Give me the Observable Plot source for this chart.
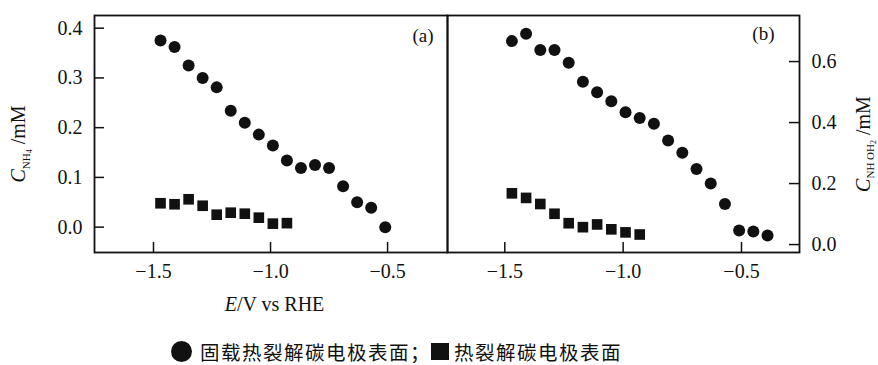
<!DOCTYPE html>
<html>
<head>
<meta charset="utf-8">
<script src="https://cdn.jsdelivr.net/npm/d3@7"></script>
<script src="https://cdn.jsdelivr.net/npm/@observablehq/plot@0.6"></script>
<style>
  html, body { margin: 0; padding: 0; background: #fff; }
  #wrap { position: relative; width: 878px; height: 365px; background: #fff; }
  .panel { position: absolute; top: 0; }
  .panel svg, .panel svg text { font-family: "Liberation Serif", "Times New Roman", Times, "DejaVu Serif", serif !important; }
  #legend { position: absolute; left: 171px; top: 337px; display: flex; align-items: center;
            font-family: "Noto Sans CJK SC", sans-serif; font-size: 19.5px; color: #111; white-space: nowrap; }
  #legend .t { display: inline-block; letter-spacing: 1.5px; padding-right: 2px; flex: none; }
  .lg-circle { width: 21px; height: 21px; border-radius: 50%; background: #111; display: inline-block; flex: none; }
  .lg-square { width: 18px; height: 17px; background: #111; display: inline-block; flex: none; }
</style>
</head>
<body>
<div id="wrap">
  <div id="pa" class="panel" style="left:0px"></div>
  <div id="pb" class="panel" style="left:440px"></div>
  <div id="legend">
    <span class="lg-circle"></span><span class="t" style="margin-left:8px">固载热裂解碳电极表面；</span><span class="lg-square" style="margin-left:-2px"></span><span class="t" style="margin-left:5px">热裂解碳电极表面</span>
  </div>
</div>
<script>
// ---- data ----
const xA = [-1.47, -1.41, -1.35, -1.29, -1.23, -1.17, -1.11, -1.05, -0.99, -0.93, -0.87, -0.81, -0.75, -0.69, -0.63, -0.57, -0.51];
const circleA = [0.375, 0.362, 0.325, 0.300, 0.281, 0.234, 0.210, 0.186, 0.164, 0.134, 0.119, 0.125, 0.119, 0.082, 0.050, 0.039, 0.000];
const xSquare = [-1.47, -1.41, -1.35, -1.29, -1.23, -1.17, -1.11, -1.05, -0.99, -0.93];
const squareA = [0.048, 0.046, 0.056, 0.043, 0.025, 0.029, 0.027, 0.019, 0.007, 0.008];
const xB = [-1.47, -1.41, -1.35, -1.29, -1.23, -1.17, -1.11, -1.05, -0.99, -0.93, -0.87, -0.81, -0.75, -0.69, -0.63, -0.57, -0.51, -0.45, -0.39];
const circleB = [0.667, 0.691, 0.638, 0.638, 0.596, 0.534, 0.499, 0.470, 0.434, 0.415, 0.396, 0.341, 0.301, 0.248, 0.200, 0.133, 0.046, 0.043, 0.030];
const squareB = [0.168, 0.153, 0.133, 0.101, 0.070, 0.057, 0.066, 0.050, 0.040, 0.033];
const xTicks = [-1.5, -1.0, -0.5];
const yTicksA = [0.0, 0.1, 0.2, 0.3, 0.4];
const yTicksB = [0.0, 0.2, 0.4, 0.6];
const panelLabels = ["(a)", "(b)"];

const ink = "#111";
const serif = "'Liberation Serif', 'Times New Roman', Times, 'DejaVu Serif', serif";
const fmt = d3.format(".1f");
const H = 315, mTop = 15, mBottom = 63;
const frameH = H - mTop - mBottom;
const tickLen = 10;

function panel({width, mLeft, mRight, xDomain, yDomain, xs, circles, squares, yTicks, yAnchor, label, labelDx, labelDy}) {
  const frameW = width - mLeft - mRight;
  const circ = xs.map((x, i) => ({x, y: circles[i]}));
  const sq = xSquare.map((x, i) => ({x, y: squares[i]}));
  return Plot.plot({
    width, height: H,
    marginLeft: mLeft, marginRight: mRight, marginTop: mTop, marginBottom: mBottom,
    style: `font-family: ${serif}; font-size: 20px; color: ${ink}; background: transparent; overflow: visible;`,
    x: {domain: xDomain, axis: null},
    y: {domain: yDomain, axis: null},
    marks: [
      Plot.tickX(xTicks, {x: d => d, stroke: ink, strokeWidth: 1.5, insetTop: frameH - tickLen}),
      Plot.tickY(yTicks, yAnchor === "left"
        ? {y: d => d, stroke: ink, strokeWidth: 1.5, insetRight: frameW - tickLen}
        : {y: d => d, stroke: ink, strokeWidth: 1.5, insetLeft: frameW - tickLen}),
      Plot.axisX(xTicks, {tickSize: 0, tickPadding: 11, tickFormat: fmt, fontSize: 20, fill: ink, label: null}),
      Plot.axisY(yTicks, {anchor: yAnchor, tickSize: 0, tickPadding: 12, tickFormat: fmt, fontSize: 20, fill: ink, label: null}),
      Plot.dot(circ, {x: "x", y: "y", r: 6, fill: ink, symbol: "circle"}),
      Plot.dot(sq, {x: "x", y: "y", r: 6, fill: ink, symbol: "square"}),
      Plot.text([label], {text: d => d, frameAnchor: "top-right", textAnchor: "end", lineAnchor: "middle", dx: labelDx, dy: labelDy, fontSize: 19, fill: ink}),
      Plot.frame({stroke: ink, strokeWidth: 1.8})
    ]
  });
}

const A = panel({width: 448, mLeft: 94, mRight: 1, xDomain: [-1.752, -0.244], yDomain: [-0.051, 0.4255],
  xs: xA, circles: circleA, squares: squareA, yTicks: yTicksA, yAnchor: "left", label: panelLabels[0], labelDx: -14, labelDy: 20});
const B = panel({width: 438, mLeft: 7, mRight: 79, xDomain: [-1.742, -0.255], yDomain: [-0.026, 0.751],
  xs: xB, circles: circleB, squares: squareB, yTicks: yTicksB, yAnchor: "right", label: panelLabels[1], labelDx: -25, labelDy: 18});
document.getElementById("pa").appendChild(A);
document.getElementById("pb").appendChild(B);

// axis titles with sub/subscripts
const sa = d3.select(A);
const ta = sa.append("text").attr("transform", "translate(25,144) rotate(-90)").attr("text-anchor", "middle")
  .attr("fill", ink).style("font-family", serif).style("font-size", "20px");
ta.append("tspan").style("font-style", "italic").text("C");
ta.append("tspan").attr("dy", 5).style("font-size", "11px").text("NH");
ta.append("tspan").attr("dy", 2).style("font-size", "8px").text("4");
ta.append("tspan").attr("dy", -7).text(" /mM");

const xl = sa.append("text").attr("x", 274.5).attr("y", 311).attr("text-anchor", "middle")
  .attr("fill", ink).style("font-family", serif).style("font-size", "20px");
xl.append("tspan").style("font-style", "italic").text("E");
xl.append("tspan").text("/V vs RHE");

const sb = d3.select(B);
const tb = sb.append("text").attr("transform", "translate(430,144) rotate(-90)").attr("text-anchor", "middle")
  .attr("fill", ink).style("font-family", serif).style("font-size", "20px");
tb.append("tspan").style("font-style", "italic").text("C");
tb.append("tspan").attr("dy", 4).style("font-size", "11px").text("NH OH");
tb.append("tspan").attr("dy", 1.5).style("font-size", "8px").text("2");
tb.append("tspan").attr("dy", -5.5).text(" /mM");
</script>
</body>
</html>
